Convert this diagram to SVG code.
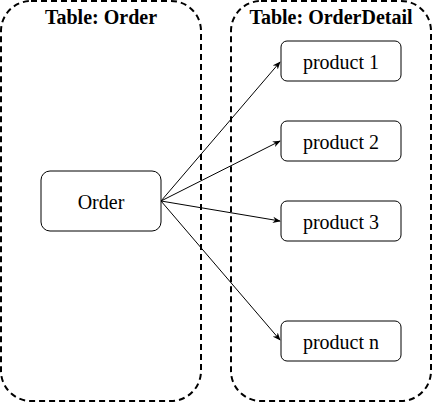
<svg xmlns="http://www.w3.org/2000/svg" width="432" height="402" viewBox="0 0 432 402">
<style>
.cont{fill:none;stroke:#000;stroke-width:2;stroke-dasharray:6 4}
.box{fill:#fff;stroke:#000;stroke-width:1}
.title{font-family:'Liberation Serif','Times New Roman',Times,serif;font-weight:bold;font-size:20px;text-anchor:middle}
.lbl{font-family:'Liberation Serif','Times New Roman',Times,serif;font-size:20px;text-anchor:middle}
.edge{stroke:#000;stroke-width:1;fill:none}
</style>
<defs>
<marker id="arr" viewBox="0 0 10 10" refX="9" refY="5" markerWidth="8" markerHeight="8" orient="auto" markerUnits="userSpaceOnUse">
<path d="M0,1 L10,5 L0,9 L3,5 Z" fill="#000"/>
</marker>
</defs>
<g id="table-order">
<rect class="cont" x="1" y="1" width="200" height="400" rx="30" ry="30"/>
<text class="title" x="101" y="24">Table: Order</text>
</g>
<g id="table-orderdetail">
<rect class="cont" x="231" y="1" width="200" height="400" rx="30" ry="30"/>
<text class="title" x="331" y="24">Table: OrderDetail</text>
</g>
<g id="connectors">
<line class="edge" x1="161" y1="201" x2="280" y2="62" marker-end="url(#arr)"/>
<line class="edge" x1="161" y1="201" x2="280" y2="141" marker-end="url(#arr)"/>
<line class="edge" x1="161" y1="201" x2="280" y2="221" marker-end="url(#arr)"/>
<line class="edge" x1="161" y1="201" x2="280" y2="340" marker-end="url(#arr)"/>
</g>
<g id="order">
<rect class="box" x="41" y="171" width="120" height="60" rx="9" ry="9"/>
<text class="lbl" x="101" y="209">Order</text>
</g>
<g id="product1">
<rect class="box" x="281" y="41" width="120" height="40" rx="6" ry="6"/>
<text class="lbl" x="341" y="69">product 1</text>
</g>
<g id="product2">
<rect class="box" x="281" y="121" width="120" height="40" rx="6" ry="6"/>
<text class="lbl" x="341" y="149">product 2</text>
</g>
<g id="product3">
<rect class="box" x="281" y="201" width="120" height="40" rx="6" ry="6"/>
<text class="lbl" x="341" y="229">product 3</text>
</g>
<g id="productn">
<rect class="box" x="281" y="321" width="120" height="40" rx="6" ry="6"/>
<text class="lbl" x="341" y="349">product n</text>
</g>
</svg>
